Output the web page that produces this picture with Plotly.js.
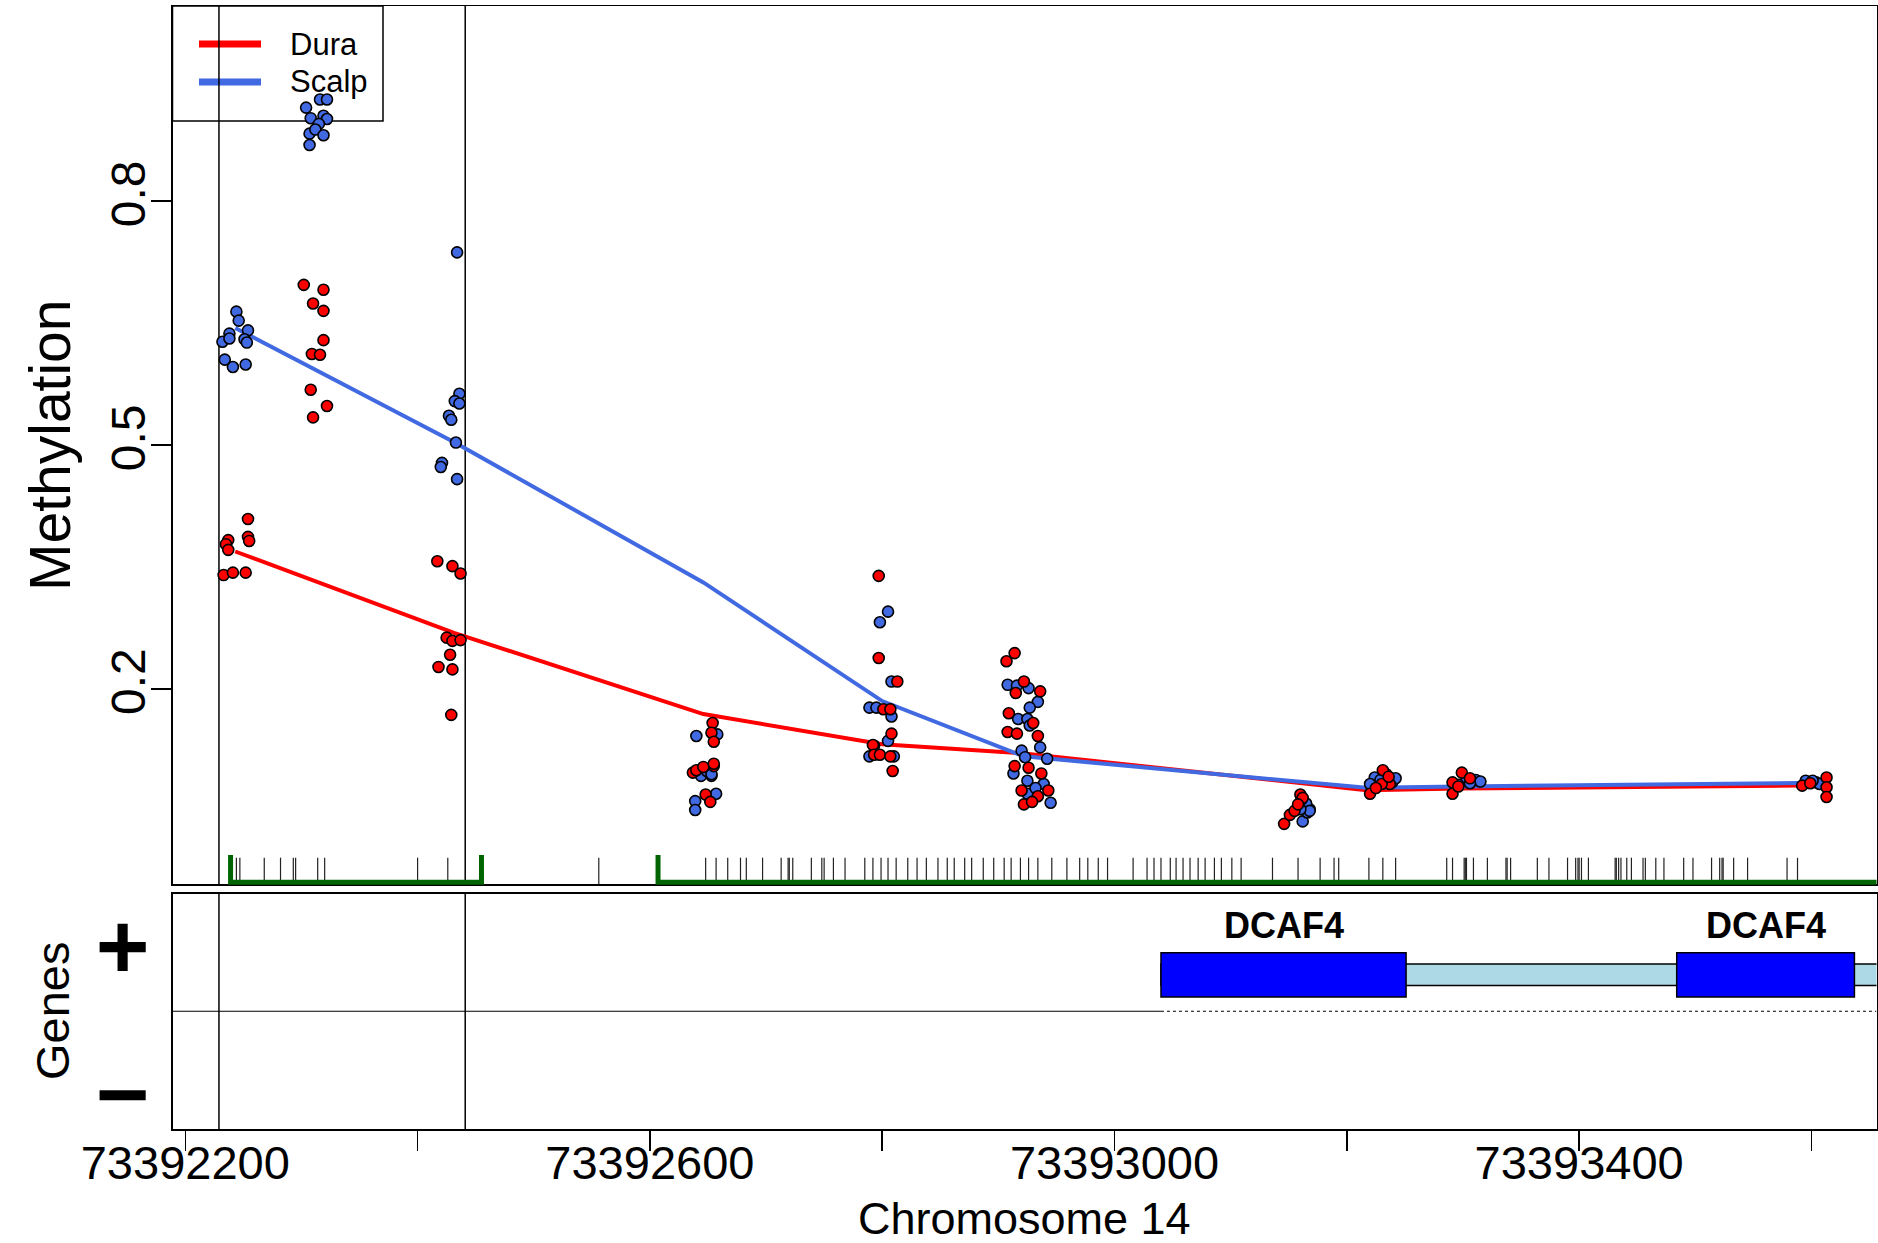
<!DOCTYPE html>
<html>
<head>
<meta charset="utf-8">
<script src="https://cdn.plot.ly/plotly-3.0.1.min.js"></script>
<style>html,body{margin:0;padding:0;background:#fff;}#chart{width:1878px;height:1243px;}</style>
</head>
<body>
<div id="chart"></div>
<script>
// ---------------- data ----------------
const xRange = [73392189, 73393656];
const xTickVals = [73392200, 73392400, 73392600, 73392800, 73393000, 73393200, 73393400, 73393600];
const xTickText = ["73392200", "", "73392600", "", "73393000", "", "73393400", ""];
const yTickVals = [0.2, 0.5, 0.8];
const yTickText = ["0.2", "0.5", "0.8"];
const strandTickText = ["+", "\u2212"];
const seriesNames = ["Dura", "Scalp"];

// smoothed group means (lines)
const linePos = [73392243, 73392432, 73392646, 73392800, 73392922, 73393160, 73393217, 73393297, 73393608];
const duraMean = [0.369, 0.2686, 0.169, 0.132, 0.1206, 0.084, 0.0754, 0.0775, 0.0814];
const scalpMean = [0.644, 0.503, 0.331, 0.185, 0.117, 0.086, 0.0783, 0.0799, 0.0845];

// per-sample methylation (Dura)
const duraX = [
  73392254,73392237,73392235,73392254,73392255,73392237,73392233,73392241,73392252,
  73392302,73392319,73392310,73392319,73392319,73392309,73392316,73392308,73392322,73392310,
  73392417,73392430,73392437,73392425,73392430,73392437,73392428,73392418,73392430,73392429,
  73392654,73392653,73392655,73392655,73392637,73392648,73392652,73392640,73392646,73392655,
  73392797,73392797,73392813,73392801,73392807,73392808,73392792,73392793,73392798,73392807,73392809,
  73392914,73392907,73392922,73392915,73392936,73392909,73392930,73392908,73392916,73392934,73392914,73392926,73392937,73392920,73392934,73392943,73392922,73392929,
  73393146,73393151,73393155,73393161,73393160,73393162,73393158,
  73393231,73393220,73393237,73393230,73393236,73393225,
  73393299,73393291,73393291,73393306,73393296,
  73393613,73393613,73393613,73393592,73393599
];
const duraY = [
  0.409,0.383,0.378,0.387,0.382,0.371,0.340,0.343,0.343,
  0.697,0.691,0.674,0.665,0.629,0.612,0.611,0.568,0.548,0.534,
  0.357,0.351,0.342,0.263,0.259,0.260,0.242,0.227,0.224,0.168,
  0.158,0.146,0.135,0.105,0.097,0.070,0.061,0.100,0.104,0.108,
  0.339,0.238,0.209,0.175,0.175,0.145,0.131,0.119,0.119,0.117,0.099,
  0.244,0.234,0.209,0.195,0.197,0.170,0.158,0.147,0.145,0.142,0.105,0.103,0.096,0.075,0.068,0.075,0.058,0.061,
  0.034,0.045,0.050,0.064,0.070,0.066,0.058,
  0.100,0.071,0.083,0.083,0.092,0.078,
  0.097,0.085,0.071,0.090,0.080,
  0.091,0.079,0.067,0.081,0.084
];

// per-sample methylation (Scalp)
const scalpX = [
  73392244,73392246,73392238,73392254,73392232,73392238,73392251,73392253,73392234,73392241,73392252,
  73392316,73392322,73392304,73392308,73392319,73392322,73392315,73392307,73392312,73392319,73392307,
  73392434,73392436,73392432,73392436,73392427,73392429,73392433,73392421,73392420,73392434,
  73392640,73392658,73392650,73392644,73392653,73392657,73392639,73392639,73392649,73392653,
  73392805,73392798,73392808,73392789,73392795,73392808,73392805,73392793,73392789,73392810,
  73392908,73392916,73392926,73392934,73392927,73392917,73392925,73392927,73392936,73392920,73392923,73392942,73392913,73392925,73392939,73392925,73392932,73392945,
  73393162,73393166,73393168,73393165,73393168,73393160,
  73393224,73393239,73393234,73393229,73393242,73393220,
  73393303,73393311,73393296,73393315,73393306,
  73393595,73393604,73393607,73393601
];
const scalpY = [
  0.664,0.653,0.637,0.641,0.627,0.631,0.630,0.626,0.605,0.596,0.599,
  0.925,0.925,0.915,0.902,0.905,0.901,0.895,0.883,0.888,0.881,0.869,
  0.737,0.563,0.554,0.551,0.536,0.531,0.503,0.478,0.473,0.458,
  0.142,0.144,0.101,0.093,0.093,0.071,0.062,0.051,0.099,0.095,
  0.295,0.282,0.209,0.177,0.177,0.166,0.136,0.130,0.117,0.117,
  0.205,0.204,0.201,0.184,0.177,0.163,0.163,0.155,0.128,0.124,0.116,0.114,0.096,0.087,0.083,0.071,0.078,0.060,
  0.037,0.048,0.052,0.059,0.050,0.052,
  0.091,0.085,0.095,0.088,0.090,0.083,
  0.088,0.088,0.082,0.086,0.084,
  0.087,0.085,0.083,0.087
];

// CpG positions (rug)
const cpgPos = [
  73392244,73392247,73392268,73392282,73392293,73392295,73392314,73392320,73392400,73392426,
  73392556,73392648,73392657,73392667,73392678,73392683,73392697,73392713,73392719,73392720,
  73392723,73392739,73392748,73392750,73392758,73392768,73392785,73392792,73392799,73392805,
  73392812,73392822,73392830,73392838,73392848,73392856,73392862,73392871,73392877,73392887,
  73392896,73392905,73392911,73392919,73392926,73392934,
  73392946,73392959,73392970,73392977,73392986,73392994,73393016,73393028,73393034,73393040,
  73393048,73393053,73393059,73393065,73393072,73393078,73393086,73393092,73393101,73393109,
  73393136,73393158,73393177,73393189,73393193,73393219,73393231,73393242,73393286,73393291,
  73393301,73393302,73393303,73393309,73393321,73393337,73393338,73393341,73393364,73393374,
  73393390,73393397,73393399,73393400,73393402,73393408,73393431,73393432,73393434,73393436,
  73393441,73393445,73393455,73393457,73393466,73393473,73393490,73393498,73393514,73393521,
  73393523,73393524,73393533,73393545,73393579,73393588
];
// CpG clusters (green brackets)
const clusterStart = [73392239, 73392607];
const clusterEnd = [73392455, 73393700];
// DMR boundaries (vertical lines)
const dmrBounds = [73392229, 73392441];

// gene model (DCAF4, + strand)
const geneName = ["DCAF4", "DCAF4"];
const exonStart = [73393040, 73393484];
const exonEnd = [73393251, 73393637];
const geneBodyStart = 73393040;
const geneBodyEnd = 73393700;

// ---------------- build ----------------
const W = 1878, H = 1243;
const px = v => v / W;
const py = v => 1 - v / H;
const FONT = "Liberation Sans, Arial, Helvetica, sans-serif";
const RED = "#FF0000", BLUE = "#4169E1", GREEN = "#006400";

const rugX = [], rugY = [];
cpgPos.forEach(p => { rugX.push(p, p, null); rugY.push(-0.0076, -0.04, null); });

const traces = [
  {x: rugX, y: rugY, type: "scatter", mode: "lines", xaxis: "x", yaxis: "y",
   line: {color: "#222", width: 1.2}, showlegend: false, hoverinfo: "skip"},
  {x: linePos, y: duraMean, type: "scatter", mode: "lines", xaxis: "x", yaxis: "y", name: seriesNames[0],
   line: {color: RED, width: 4}, showlegend: false},
  {x: linePos, y: scalpMean, type: "scatter", mode: "lines", xaxis: "x", yaxis: "y", name: seriesNames[1],
   line: {color: BLUE, width: 4}, showlegend: false},
  {x: scalpX, y: scalpY, type: "scatter", mode: "markers", xaxis: "x", yaxis: "y", name: seriesNames[1],
   marker: {color: BLUE, size: 11, line: {color: "#000", width: 1.6}}, showlegend: false},
  {x: duraX, y: duraY, type: "scatter", mode: "markers", xaxis: "x", yaxis: "y", name: seriesNames[0],
   marker: {color: RED, size: 11, line: {color: "#000", width: 1.6}}, showlegend: false},
  {x: [xRange[0]], y: [0.5], type: "scatter", mode: "markers", xaxis: "x2", yaxis: "y2",
   marker: {opacity: 0}, showlegend: false, hoverinfo: "skip"}
];

const shapes = [];
// legend frame (drawn under data, like the reference)
shapes.push({type: "rect", xref: "paper", yref: "paper", x0: px(172.5), x1: px(383), y0: py(121), y1: py(6),
             fillcolor: "#fff", line: {color: "#000", width: 1.5}, layer: "below"});
[RED, BLUE].forEach((c, i) => {
  const yy = py(44 + 38 * i);
  shapes.push({type: "line", xref: "paper", yref: "paper", x0: px(199), x1: px(261), y0: yy, y1: yy,
               line: {color: c, width: 7}, layer: "below"});
});
// DMR vertical lines in both panels
dmrBounds.forEach(b => {
  shapes.push({type: "line", xref: "x", yref: "y domain", x0: b, x1: b, y0: 0, y1: 1,
               line: {color: "#000", width: 1.5}, layer: "below"});
  shapes.push({type: "line", xref: "x2", yref: "y2 domain", x0: b, x1: b, y0: 0, y1: 1,
               line: {color: "#000", width: 1.5}, layer: "below"});
});
// cluster brackets
clusterStart.forEach((s, i) => {
  const e = Math.min(clusterEnd[i], xRange[1] + 20);
  shapes.push({type: "path", xref: "x", yref: "y domain",
    path: `M ${s},0.033 L ${s},0.002 L ${e},0.002 L ${e},0.033`,
    line: {color: GREEN, width: 5}, layer: "above"});
});
// strand line
shapes.push({type: "line", xref: "x2", yref: "y2", x0: xRange[0], x1: geneBodyStart, y0: 0.5, y1: 0.5,
             line: {color: "#000", width: 1}});
shapes.push({type: "line", xref: "x2", yref: "y2", x0: geneBodyStart, x1: xRange[1], y0: 0.5, y1: 0.5,
             line: {color: "#000", width: 1.2, dash: "dot"}});
// gene body + exons
shapes.push({type: "rect", xref: "x2", yref: "y2", x0: geneBodyStart, x1: geneBodyEnd, y0: 0.609, y1: 0.701,
             fillcolor: "#ADD8E6", line: {color: "#000", width: 1.5}});
exonStart.forEach((s, i) => {
  shapes.push({type: "rect", xref: "x2", yref: "y2", x0: s, x1: exonEnd[i], y0: 0.561, y1: 0.748,
               fillcolor: "#0000FF", line: {color: "#000", width: 1.5}});
});

const annotations = [
  {text: "Methylation", xref: "paper", yref: "paper", x: px(50), y: py(445), xanchor: "center", yanchor: "middle",
   textangle: -90, showarrow: false, font: {family: FONT, size: 57, color: "#000"}},
  {text: "Genes", xref: "paper", yref: "paper", x: px(52), y: py(1011), xanchor: "center", yanchor: "middle",
   textangle: -90, showarrow: false, font: {family: FONT, size: 47, color: "#000"}},
  {text: "Chromosome 14", xref: "paper", yref: "paper", x: px(1024.5), y: py(1218), xanchor: "center", yanchor: "middle",
   showarrow: false, font: {family: FONT, size: 45, color: "#000"}}
];
seriesNames.forEach((n, i) => {
  annotations.push({text: n, xref: "paper", yref: "paper", x: px(288), y: py(44 + 38 * i),
    xanchor: "left", yanchor: "middle", showarrow: false, font: {family: FONT, size: 31, color: "#000"}});
});
exonStart.forEach((s, i) => {
  annotations.push({text: geneName[i], xref: "x2", yref: "y2", x: (s + exonEnd[i]) / 2, y: 0.866,
    xanchor: "center", yanchor: "middle",
    showarrow: false, font: {family: FONT, size: 36, color: "#000", weight: "bold"}});
});

const axisCommon = {showgrid: false, zeroline: false, showline: true, mirror: true,
                    linecolor: "#000", linewidth: 1.5};

const layout = {
  width: W, height: H,
  margin: {l: 0, r: 0, t: 0, b: 0},
  paper_bgcolor: "#fff", plot_bgcolor: "#fff",
  font: {family: FONT, color: "#000"},
  showlegend: false,
  xaxis: Object.assign({}, axisCommon, {domain: [px(172.5), px(1876.5)], range: xRange, anchor: "y",
          showticklabels: false, ticks: ""}),
  xaxis2: Object.assign({}, axisCommon, {domain: [px(172.5), px(1876.5)], range: xRange, anchor: "y2",
          matches: "x", tickmode: "array", tickvals: xTickVals, ticktext: xTickText,
          ticks: "outside", ticklen: 20, tickwidth: 1.5, tickcolor: "#000", ticklabelstandoff: -28,
          tickfont: {family: FONT, size: 47, color: "#000"}}),
  yaxis: Object.assign({}, axisCommon, {domain: [py(884), py(6)], range: [-0.04, 1.04], anchor: "x",
          tickmode: "array", tickvals: yTickVals, ticktext: yTickText, tickangle: -90,
          ticks: "outside", ticklen: 20, tickwidth: 1.5, tickcolor: "#000", ticklabelstandoff: -13,
          tickfont: {family: FONT, size: 48, color: "#000"}}),
  yaxis2: Object.assign({}, axisCommon, {domain: [py(1129), py(893.5)], range: [0, 1], anchor: "x2",
          tickmode: "array", tickvals: [0.777, 0.149], ticktext: strandTickText, tickangle: 0,
          ticks: "", ticklabelstandoff: 3,
          tickfont: {family: FONT, size: 92, color: "#000", weight: "bold"}}),
  shapes: shapes,
  annotations: annotations
};

Plotly.newPlot("chart", traces, layout, {displayModeBar: false, staticPlot: true});
</script>
</body>
</html>
